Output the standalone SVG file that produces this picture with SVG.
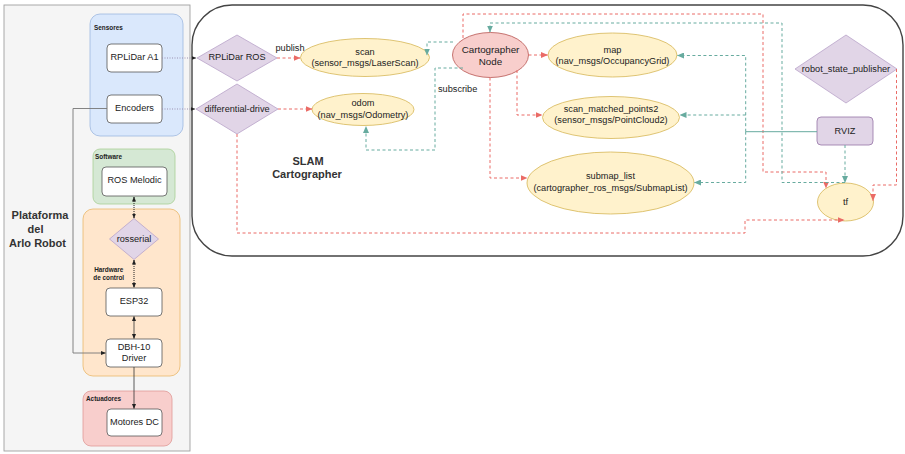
<svg xmlns="http://www.w3.org/2000/svg" width="905" height="454" viewBox="0 0 905 454">
<style>
text{font-family:"Liberation Sans",Arial,Helvetica,sans-serif;fill:#222;font-size:9.2px;text-anchor:middle}
.b{font-weight:bold;fill:#333;font-size:11px}
.cn{font-size:9.8px}
.s{font-size:6.4px;font-weight:bold;text-anchor:start;fill:#222}
.sm{text-anchor:middle}
.st{text-anchor:start}
.box{fill:#fff;stroke:#555;stroke-width:0.8}
.dia{fill:#e1d5e7;stroke:#b9a3c9;stroke-width:0.8}
.ell{fill:#fff2cc;stroke:#d6b656;stroke-width:0.8}
.red{fill:none;stroke:#ea6b66;stroke-width:1;stroke-dasharray:3 2.5}
.teal{fill:none;stroke:#67ab9f;stroke-width:1;stroke-dasharray:3 2.5}
.tsol{fill:none;stroke:#67ab9f;stroke-width:1}
.dot{fill:none;stroke:#9a8fb0;stroke-width:1;stroke-dasharray:1 1.5}
.kdot{fill:none;stroke:#222;stroke-width:1;stroke-dasharray:1 1}
.k{fill:none;stroke:#333;stroke-width:0.8}
.g{fill:none;stroke:#777;stroke-width:0.9}
</style>
<defs>
<marker id="aR" markerUnits="userSpaceOnUse" markerWidth="7" markerHeight="6" refX="6.5" refY="3" orient="auto"><path d="M0,0 L7,3 L0,6 z" fill="#ea6b66"/></marker>
<marker id="aT" markerUnits="userSpaceOnUse" markerWidth="7" markerHeight="6" refX="6.5" refY="3" orient="auto"><path d="M0,0 L7,3 L0,6 z" fill="#67ab9f"/></marker>
<marker id="aK" markerUnits="userSpaceOnUse" markerWidth="5" markerHeight="4" refX="4.5" refY="2" orient="auto-start-reverse"><path d="M0,0 L5,2 L0,4 z" fill="#222"/></marker>
</defs>

<g id="plataforma">
<rect x="4" y="5" width="186" height="446" fill="#f5f5f5" stroke="#a0a0a0" stroke-width="0.9"/>
<text class="b" x="40" y="219">Plataforma</text>
<text class="b" x="35.5" y="233">del</text>
<text class="b" x="37.5" y="247">Arlo Robot</text>
</g>
<g id="sensores">
<rect x="90" y="14" width="93" height="122" rx="10" fill="#dae8fc" stroke="#9db8e0" stroke-width="0.8"/>
<text class="s" x="94" y="29.5">Sensores</text>
</g>
<g id="software">
<rect x="93" y="149" width="82" height="55" rx="7" fill="#d5e8d4" stroke="#a8cf96" stroke-width="0.8"/>
<text class="s" x="95" y="158.5">Software</text>
</g>
<g id="hardware">
<rect x="83" y="209" width="97" height="167" rx="10" fill="#ffe6cc" stroke="#eab86a" stroke-width="0.8"/>
<text class="s sm" x="108.7" y="272.3">Hardware</text>
<text class="s sm" x="108.7" y="279.6">de control</text>
</g>
<g id="actuadores">
<rect x="83" y="391" width="89" height="55" rx="8" fill="#f8cecc" stroke="#e09a98" stroke-width="0.8"/>
<text class="s" x="86" y="401">Actuadores</text>
</g>
<g id="rplidar-a1"><rect class="box" x="107" y="44" width="55" height="28" rx="4"/><text x="134.5" y="60">RPLiDar A1</text></g>
<g id="encoders"><rect class="box" x="107" y="95" width="55" height="28" rx="4"/><text x="134.5" y="111.2">Encoders</text></g>
<g id="ros-melodic"><rect class="box" x="102" y="167" width="65" height="29" rx="4"/><text x="134.5" y="183.2">ROS Melodic</text></g>
<g id="rosserial"><path class="dia" d="M134,218.5 L158.5,239 L134,259.5 L109.5,239 z"/><text x="134" y="242">rosserial</text></g>
<g id="esp32"><rect class="box" x="106" y="288" width="56" height="28" rx="4"/><text x="134" y="304.2">ESP32</text></g>
<g id="dbh10"><rect class="box" x="106" y="339" width="56" height="28" rx="4"/><text x="134" y="350">DBH-10</text><text x="134" y="360.5">Driver</text></g>
<g id="motores"><rect class="box" x="107" y="409" width="55" height="27" rx="4"/><text x="134.5" y="425">Motores DC</text></g>

<g id="slam">
<rect x="192" y="5" width="711" height="251" rx="40" fill="#fff" stroke="#444" stroke-width="1.4"/>
<text class="b" x="308" y="165">SLAM</text>
<text class="b" x="307" y="178">Cartographer</text>
</g>
<g id="rplidar-ros"><path class="dia" d="M237,35 L277,58 L237,81 L197,58 z"/><text x="237" y="60.2">RPLiDar ROS</text></g>
<g id="differential-drive"><path class="dia" d="M237,84 L278,109 L237,134 L196,109 z"/><text x="237" y="111.5">differential-drive</text></g>
<g id="scan"><ellipse class="ell" cx="365" cy="57.5" rx="64.5" ry="19"/><text x="365" y="55">scan</text><text x="365" y="66">(sensor_msgs/LaserScan)</text></g>
<g id="odom"><ellipse class="ell" cx="363" cy="109.5" rx="51" ry="16"/><text x="363" y="106">odom</text><text x="363" y="117.5">(nav_msgs/Odometry)</text></g>
<g id="cartographer-node"><ellipse cx="490.5" cy="55" rx="38" ry="22.5" fill="#f8cecc" stroke="#b85450" stroke-width="0.8"/><text class="cn" x="490.5" y="52.5">Cartographer</text><text class="cn" x="490.5" y="64.5">Node</text></g>
<g id="map"><ellipse class="ell" cx="612.5" cy="55" rx="64.5" ry="22"/><text x="612.5" y="52.5">map</text><text x="612.5" y="64">(nav_msgs/OccupancyGrid)</text></g>
<g id="scan-matched"><ellipse class="ell" cx="611" cy="117.5" rx="68.5" ry="21"/><text x="611" y="111.5">scan_matched_points2</text><text x="611" y="122.5">(sensor_msgs/PointCloud2)</text></g>
<g id="submap-list"><ellipse class="ell" cx="610.5" cy="183" rx="83.5" ry="31"/><text x="610.5" y="179.2">submap_list</text><text x="610.5" y="190.5">(cartographer_ros_msgs/SubmapList)</text></g>
<g id="robot-state-publisher"><path class="dia" d="M846,35 L897,69 L846,103 L795,69 z"/><text x="846" y="72.2">robot_state_publisher</text></g>
<g id="rviz"><rect x="817" y="117" width="56" height="28" rx="4" fill="#e1d5e7" stroke="#9673a6" stroke-width="0.8"/><text x="845" y="134">RVIZ</text></g>
<g id="tf"><ellipse class="ell" cx="845.5" cy="202" rx="28" ry="19"/><text x="845.5" y="204.5">tf</text></g>

<g id="connectors">
<path class="dot" d="M162,58 H196" marker-end="url(#aK)"/>
<path class="dot" d="M162,109 H195" marker-end="url(#aK)"/>
<path class="g" d="M107,108.5 H73 V353 H105.5" marker-end="url(#aK)"/>
<path class="kdot" d="M134,197 V218" marker-start="url(#aK)" marker-end="url(#aK)"/>
<path class="kdot" d="M134,260 V287.5" marker-start="url(#aK)" marker-end="url(#aK)"/>
<path class="k" d="M134,316.5 V338.5" marker-start="url(#aK)" marker-end="url(#aK)"/>
<path class="k" d="M134,367 V408.5" marker-end="url(#aK)"/>
<text x="290" y="51">publish</text>
<text class="st" x="438" y="92.2">subscribe</text>
<path class="red" d="M277,58 H300" marker-end="url(#aR)"/>
<path class="red" d="M278,109 H312" marker-end="url(#aR)"/>
<path class="red" d="M237,134 V233 H745 V220 H844" marker-end="url(#aR)"/>
<path class="teal" d="M453,42 H427 V55" marker-end="url(#aT)"/>
<path class="teal" d="M463,68 H435 V150 H366 V126.5" marker-end="url(#aT)"/>
<path class="red" d="M528.5,55 H547.5" marker-end="url(#aR)"/>
<path class="red" d="M517,70 V115 H542" marker-end="url(#aR)"/>
<path class="red" d="M490,77.5 V178 H527" marker-end="url(#aR)"/>
<path class="red" d="M463,38 V14 H763 V172 H826 V188" marker-end="url(#aR)"/>
<path class="teal" d="M845,182.5 H782 V23 H490 V32" marker-end="url(#aT)"/>
<path class="teal" d="M845,145 V182.5" marker-end="url(#aT)"/>
<path class="tsol" d="M817,131.7 H745.7"/>
<path class="teal" d="M745.7,131.7 V55.5 H677.5" marker-end="url(#aT)"/>
<path class="teal" d="M745.7,115 H680" marker-end="url(#aT)"/>
<path class="teal" d="M745.7,131.7 V182.5 H694.5" marker-end="url(#aT)"/>
<path class="red" d="M896.5,69 V185 H873 V200.5" marker-end="url(#aR)"/>
</g>
</svg>
